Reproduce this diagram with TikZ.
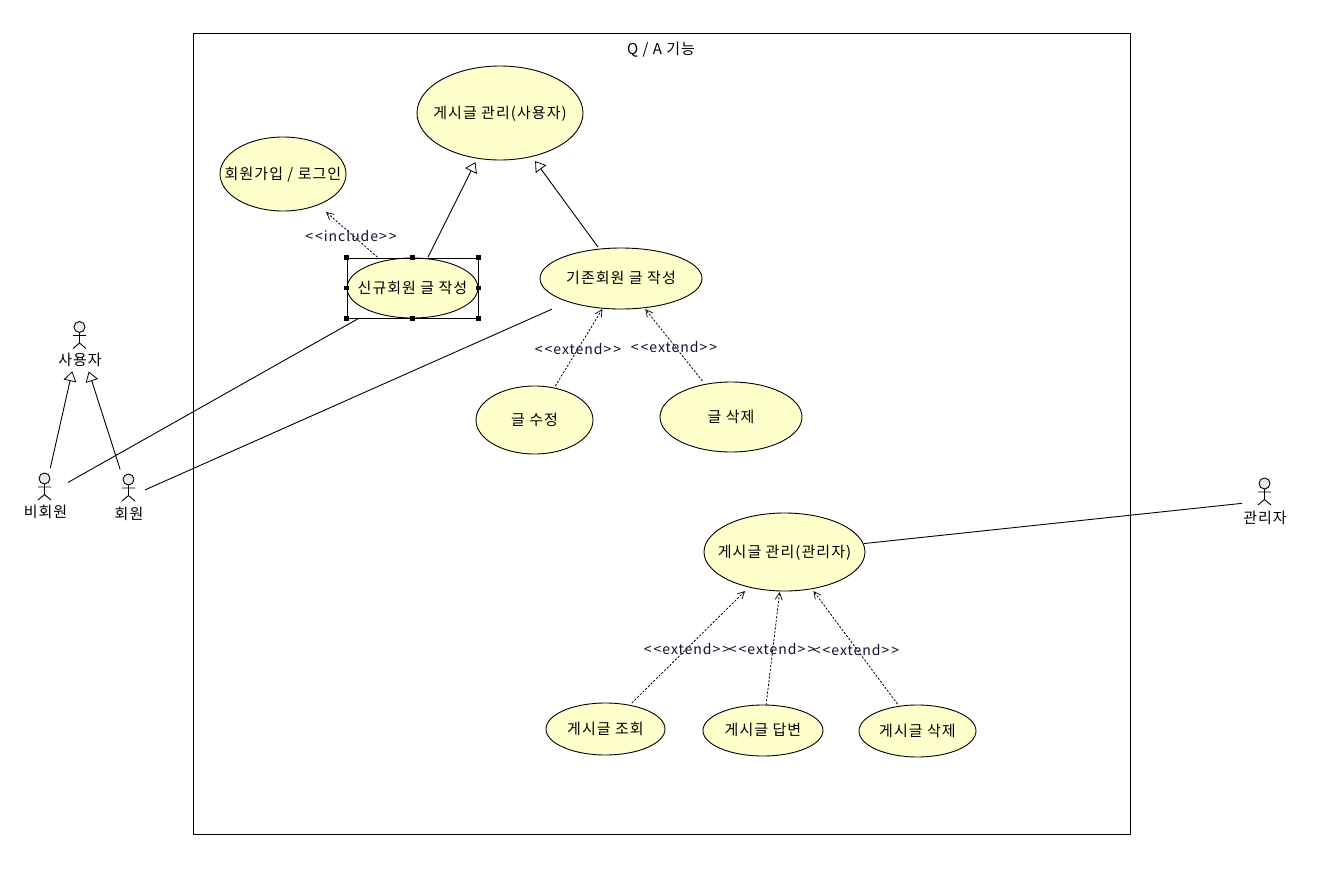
\documentclass[tikz,border=0pt]{standalone}
\usepackage{fontspec}
\setmainfont[LetterSpace=7]{Noto Sans CJK KR}
\usetikzlibrary{arrows.meta,shapes.geometric}
\definecolor{ucfill}{RGB}{255,255,204}
\definecolor{headfill}{RGB}{236,232,236}
\definecolor{stereotext}{RGB}{15,15,45}
\tikzset{
  usecase/.style={draw=black,fill=ucfill,ellipse,inner sep=0pt,line width=0.9pt,font=\fontsize{15}{17}\selectfont},
  txt/.style={inner sep=0pt,font=\fontsize{15}{17}\selectfont,text=black},
  stereo/.style={inner sep=0pt,font=\fontsize{14}{16}\selectfont,text=stereotext},
  actorbox/.style={inner sep=0pt,minimum size=1pt},
  line/.style={line width=0.9pt},
  gen/.style={line,-{Triangle[open,fill=white,length=10pt,width=13pt,line width=0.8pt]}},
  dep/.style={line width=0.8pt,dash pattern=on 2.2pt off 1.6pt,-{Straight Barb[length=7pt,width=7pt,line width=0.7pt]}},
  handle/.style={fill=black,draw=none,minimum size=4.5pt,inner sep=0pt,rectangle},
}
\newcommand{\uc}[1]{\makebox[0pt]{\raisebox{-5pt}[0pt][0pt]{#1}}}
\newcommand{\ster}[1]{<\kern2pt{}<#1>\kern2pt{}>}
% stick figure centred on head (#1,#2)
\newcommand{\stick}[2]{%
  \draw[line width=0.9pt,fill=headfill] (#1,#2) circle (5.5pt);
  \draw[line width=0.9pt] (#1,#2+5.5) -- (#1,#2+16) (#1-6.5,#2+8.5) -- (#1+6.5,#2+8.5)
    (#1-6.5,#2+21.5) -- (#1,#2+16) -- (#1+6.5,#2+21.5);}
\begin{document}
\begin{tikzpicture}[x=1pt,y=-1pt]
\useasboundingbox (0,0) rectangle (1342,886);
\fill[white] (0,0) rectangle (1342,886);
\node[draw=black,line width=0.9pt,minimum width=937pt,minimum height=801pt,inner sep=0pt] (frame) at (662,434) {};
\node[txt] (title) at (661,49.5) {Q / A 기능};

\node[usecase,minimum width=166pt,minimum height=94pt] (mgr) at (500,113) {\uc{게시글 관리(사용자)}};
\node[usecase,minimum width=126pt,minimum height=74pt] (join) at (283,174) {\uc{회원가입 / 로그인}};
\node[usecase,minimum width=131pt,minimum height=60pt] (new) at (412.5,288) {\uc{신규회원 글 작성}};
\node[usecase,minimum width=162pt,minimum height=61pt] (old) at (621,278.5) {\uc{기존회원 글 작성}};
\node[usecase,minimum width=117pt,minimum height=68pt] (edit) at (534.5,420) {\uc{글 수정}};
\node[usecase,minimum width=142pt,minimum height=70pt] (del) at (731,417) {\uc{글 삭제}};
\node[usecase,minimum width=161pt,minimum height=78pt] (admin) at (784.5,552) {\uc{게시글 관리(관리자)}};
\node[usecase,minimum width=119pt,minimum height=52pt] (view) at (605.5,729) {\uc{게시글 조회}};
\node[usecase,minimum width=120pt,minimum height=51pt] (reply) at (763,730.5) {\uc{게시글 답변}};
\node[usecase,minimum width=117pt,minimum height=52pt] (rem) at (917.5,731) {\uc{게시글 삭제}};

% selection box
\node[draw=black,line width=0.9pt,minimum width=131pt,minimum height=60pt,inner sep=0pt] (sel) at (412.5,288) {};
\foreach \a/\n in {north west/a,north/b,north east/c,west/d,east/e,south west/f,south/g,south east/h}{
  \node[handle] (sel\n) at (sel.\a) {};
}

% actors
\stick{79.5}{327}
\stick{44.5}{478.5}
\stick{128.5}{479.5}
\stick{1264.5}{483.5}
\node[actorbox] (user) at (79,341) {};
\node[actorbox] (guest) at (44,496) {};
\node[actorbox] (member) at (129,497) {};
\node[actorbox] (adm) at (1264,501) {};
\node[txt] (userl) at (80,360) {사용자};
\node[txt] (guestl) at (45.5,512) {비회원};
\node[txt] (memberl) at (129,513.5) {회원};
\node[txt] (adml) at (1265,518) {관리자};

% generalisations
\draw[gen,shorten <=34.7pt,shorten >=54.9pt] (new.center) -- (mgr.center);
\draw[gen,shorten <=39pt,shorten >=59.5pt] (old.center) -- (mgr.center);
\draw[gen,shorten <=28.5pt,shorten >=31pt] (guest.center) -- (user.center);
\draw[gen,shorten <=29pt,shorten >=32pt] (member.center) -- (user.center);

% dependencies
\draw[dep,shorten <=46.8pt,shorten >=57.4pt] (new.center) -- (join.center);
\draw[dep,shorten <=39.8pt,shorten >=35.7pt] (edit.center) -- (old.center);
\draw[dep,shorten <=46pt,shorten >=39pt] (del.center) -- (old.center);
\draw[dep,shorten <=37pt,shorten >=55.5pt] (view.center) -- (admin.center);
\draw[dep,shorten <=25.7pt,shorten >=40.3pt] (reply.center) -- (admin.center);
\draw[dep,shorten <=33.6pt,shorten >=48.6pt] (rem.center) -- (admin.center);

% associations
\draw[line,shorten <=27.6pt,shorten >=62pt] (guest.center) -- (new.center);
\draw[line,shorten <=17.5pt,shorten >=75.5pt] (member.center) -- (old.center);
\draw[line,shorten <=80pt,shorten >=22pt] (admin.center) -- (adm.center);

% stereotype labels
\node[stereo] (linc) at (351,236) {\ster{include}};
\node[stereo] (le1) at (578,349) {\ster{extend}};
\node[stereo] (le2) at (674,347) {\ster{extend}};
\node[stereo] (le3) at (687,649) {\ster{extend}};
\node[stereo] (le4) at (772,649) {\ster{extend}};
\node[stereo] (le5) at (856,650) {\ster{extend}};
\end{tikzpicture}
\end{document}
